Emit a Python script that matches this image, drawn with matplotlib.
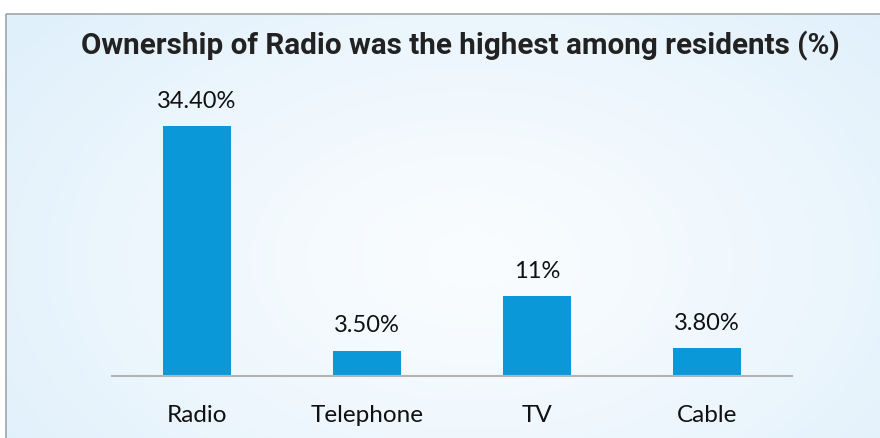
import numpy as np
import matplotlib
matplotlib.use("Agg")
import matplotlib.pyplot as plt
from matplotlib.patches import Rectangle

categories = ["Radio", "Telephone", "TV", "Cable"]
values = [34.4, 3.5, 11, 3.8]
value_labels = ["34.40%", "3.50%", "11%", "3.80%"]
title = "Ownership of Radio was the highest among residents (%)"

W, H = 880, 439
fig = plt.figure(figsize=(W / 100, H / 100), dpi=100)

# background gradient panel
bg = fig.add_axes([0, 0, 1, 1])
bg.set_xlim(0, W)
bg.set_ylim(H, 0)
bg.axis("off")
yy, xx = np.mgrid[0:H, 0:W]
r = np.sqrt(((xx - 470) / 560.0) ** 2 + ((yy - 260) / 360.0) ** 2)
r = np.clip(r, 0, 1) ** 1.3
c0 = np.array([0.978, 0.990, 0.999])
c1 = np.array([0.880, 0.942, 0.984])
img = c0[None, None, :] * (1 - r[..., None]) + c1[None, None, :] * r[..., None]
img[:14, :, :] = 1.0
img[:, :5, :] = 1.0
bg.imshow(img, extent=[0, W, H, 0], aspect="auto", interpolation="bilinear")
bg.add_patch(Rectangle((5.5, 14.5), W + 10, H + 10, fill=False, edgecolor="#a6a6a6", linewidth=1.2))

# main axes: x 112..792, baseline y=377
px_per_unit = 250 / 34.4
top_px = 60
ax = fig.add_axes([112 / W, 1 - 377 / H, 680 / W, (377 - top_px) / H])
ax.patch.set_alpha(0)
x = np.arange(len(categories))
ax.bar(x, values, width=0.4, color="#0b98d8")
ax.set_xlim(-0.5, 3.5)
ax.set_ylim(0, (377 - top_px) / px_per_unit)
for s in ["top", "right", "left"]:
    ax.spines[s].set_visible(False)
ax.spines["bottom"].set_color("#b3b3b3")
ax.spines["bottom"].set_linewidth(1.5)
ax.set_yticks([])
ax.set_xticks(x)
ax.set_xticklabels(categories, fontsize=17.5, family="Lato", color="#111111")
ax.tick_params(axis="x", length=0, pad=20)
for xi, v, lab in zip(x, values, value_labels):
    ax.annotate(lab, (xi, v), xytext=(0, 11), textcoords="offset points",
                ha="center", va="bottom", fontsize=17, family="Lato", color="#111111")

fig.text(460 / W, 1 - 46 / H, title, ha="center", va="center", fontsize=21.3,
         fontweight="bold", family="Roboto", color="#222222")

fig.savefig("out.png", dpi=100)
